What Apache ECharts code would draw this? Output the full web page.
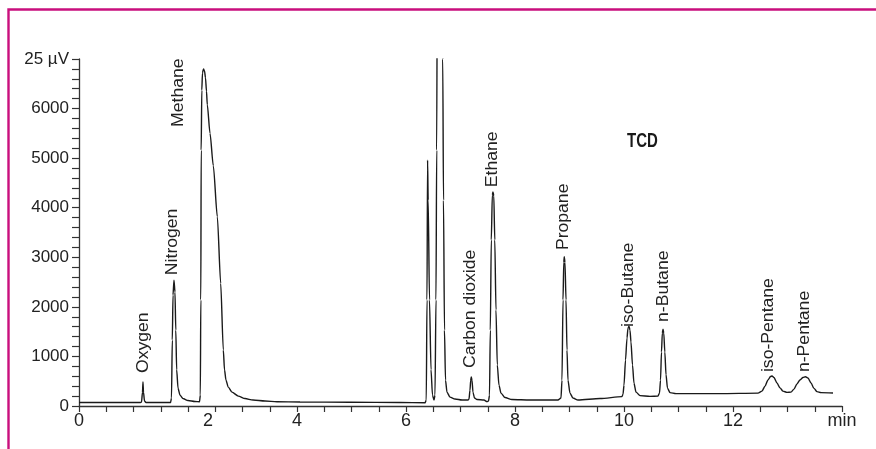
<!DOCTYPE html>
<html>
<head>
<meta charset="utf-8">
<script src="https://cdn.jsdelivr.net/npm/echarts@6/dist/echarts.min.js"></script>
<style>
  html, body { margin: 0; padding: 0; background: #fff; }
  #chart { width: 876px; height: 449px; }
</style>
</head>
<body>
<div id="chart"></div>
<script>
// TCD chromatogram of a refinery gas sample: signal (25 µV units) against retention time (min)

// Detector trace, [time in min, signal]
const baselineStart = [[0, 70], [1.119, 70]];
const oxygenTrace = [[1.147, 80], [1.165, 280], [1.174, 485], [1.183, 280], [1.202, 100], [1.229, 70], [1.679, 70]];
const nitrogenTrace = [[1.697, 160], [1.712, 1330], [1.725, 2240], [1.743, 2540], [1.761, 2300], [1.776, 1530],
  [1.792, 730], [1.817, 360], [1.853, 220], [1.908, 150], [2.0, 110], [2.128, 90], [2.211, 85]];
const methaneTrace = [[2.226, 220], [2.235, 2140], [2.242, 5160], [2.253, 6370], [2.266, 6720], [2.284, 6800],
  [2.303, 6760], [2.321, 6620], [2.339, 6350], [2.354, 6080], [2.404, 5500], [2.464, 4850], [2.538, 3820],
  [2.600, 2470], [2.648, 1130], [2.670, 730], [2.697, 520], [2.739, 380], [2.807, 280], [2.923, 200],
  [3.046, 150], [3.193, 120], [3.413, 100], [3.633, 85], [4.055, 80], [4.972, 75], [5.890, 70], [6.349, 65]];
const earlyPeaksTrace = [[6.372, 120], [6.385, 2140], [6.396, 4960], [6.407, 4150], [6.431, 2140], [6.459, 730],
  [6.486, 220], [6.514, 120], [6.532, 220], [6.550, 2140], [6.563, 5160], [6.578, 10240], [6.618, 16250],
  [6.657, 10240], [6.674, 7000], [6.688, 4150], [6.706, 1530], [6.725, 520], [6.752, 280], [6.807, 180],
  [6.899, 140], [7.028, 120], [7.138, 120]];
const co2Trace = [[7.156, 140], [7.174, 320], [7.187, 520], [7.198, 585], [7.211, 520], [7.229, 280], [7.257, 160],
  [7.303, 130], [7.431, 120], [7.486, 90], [7.514, 100]];
const ethaneTrace = [[7.532, 220], [7.547, 1530], [7.565, 3350], [7.584, 4260], [7.596, 4320], [7.611, 4240],
  [7.629, 3350], [7.651, 1940], [7.675, 830], [7.706, 420], [7.743, 260], [7.817, 170], [7.945, 130],
  [8.275, 120], [8.789, 120]];
const propaneTrace = [[8.844, 160], [8.862, 520], [8.881, 2140], [8.895, 2900], [8.904, 3010], [8.917, 2900],
  [8.936, 2140], [8.954, 1130], [8.972, 520], [9.009, 260], [9.064, 160], [9.156, 120], [9.560, 150], [9.963, 190]];
const isoButaneTrace = [[9.982, 240], [10.0, 420], [10.028, 930], [10.055, 1370], [10.073, 1570], [10.092, 1610],
  [10.110, 1530], [10.128, 1290], [10.156, 830], [10.183, 460], [10.220, 280], [10.294, 210], [10.477, 195],
  [10.624, 200]];
const nButaneTrace = [[10.651, 260], [10.670, 520], [10.688, 1090], [10.703, 1470], [10.716, 1550], [10.730, 1470],
  [10.749, 1090], [10.771, 630], [10.798, 360], [10.844, 270], [10.954, 250], [11.761, 250], [12.459, 260]];
const isoPentaneTrace = [[12.532, 300], [12.587, 400], [12.642, 525], [12.688, 595], [12.716, 605], [12.752, 575],
  [12.807, 465], [12.862, 365], [12.917, 300], [12.991, 275], [13.064, 280]];
const nPentaneTrace = [[13.119, 340], [13.174, 445], [13.229, 525], [13.284, 575], [13.330, 590], [13.376, 565],
  [13.431, 465], [13.486, 355], [13.541, 290], [13.615, 270], [13.835, 262]];

// Peak names and where each name sits (time, signal at the foot of the text)
const peakNames = ['Oxygen', 'Nitrogen', 'Methane', 'Carbon dioxide', 'Ethane', 'Propane',
  'iso-Butane', 'n-Butane', 'iso-Pentane', 'n-Pentane'];
const peakLabelTimes = [1.19, 1.72, 1.83, 7.19, 7.58, 8.90, 10.09, 10.72, 12.66, 13.32];
const peakLabelSignals = [665, 2640, 5630, 765, 4415, 3145, 1595, 1695, 685, 685];

// Axis ranges and tick steps
const timeMin = 0, timeMax = 14, timeStep = 0.5;
const signalMin = 0, signalMax = 7000, signalStep = 200;
const timeLabels = [0, 2, 4, 6, 8, 10, 12];
const signalLabels = [0, 1000, 2000, 3000, 4000, 5000, 6000];
const signalTopLabel = '25 µV';
const timeUnitLabel = 'min';
const detectorName = 'TCD';

const trace = [].concat(baselineStart, oxygenTrace, nitrogenTrace, methaneTrace, earlyPeaksTrace,
  co2Trace, ethaneTrace, propaneTrace, isoButaneTrace, nButaneTrace, isoPentaneTrace, nPentaneTrace);

const labelData = peakNames.map((n, i) => [peakLabelTimes[i], peakLabelSignals[i], n]);

const sans = '"Liberation Sans", Arial, sans-serif';
const ink = '#222';

const chart = echarts.init(document.getElementById('chart'), null, { renderer: 'canvas' });

chart.setOption({
  animation: false,
  backgroundColor: '#fff',
  grid: { left: 79, right: 34, top: 59, bottom: 43 },
  xAxis: {
    type: 'value',
    min: timeMin, max: timeMax, interval: timeStep,
    splitLine: { show: false },
    axisLine: { lineStyle: { color: '#333', width: 1.3 } },
    axisTick: { length: 6, lineStyle: { color: '#333', width: 1.2 } },
    axisLabel: {
      margin: 6,
      fontFamily: sans, fontSize: 18, color: ink,
      showMaxLabel: true, showMinLabel: true,
      formatter: v => {
        if (Math.abs(v - timeMax) < 1e-6) return timeUnitLabel;
        if (v === 2) return '{s|2}';
        return timeLabels.indexOf(v) >= 0 ? String(v) : '';
      },
      rich: { s: { fontFamily: sans, fontSize: 18, color: ink, padding: [0, 0, 0, 40] } }
    }
  },
  yAxis: {
    type: 'value',
    min: signalMin, max: signalMax, interval: signalStep,
    splitLine: { show: false },
    axisLine: { show: true, lineStyle: { color: '#333', width: 1.3 } },
    axisTick: { show: true, length: 7, lineStyle: { color: '#333', width: 1.2 } },
    axisLabel: {
      margin: 10,
      fontFamily: sans, fontSize: 17, color: ink,
      showMaxLabel: true,
      formatter: v => {
        if (Math.abs(v - signalMax) < 1e-6) return signalTopLabel;
        return signalLabels.indexOf(v) >= 0 ? String(v) : '';
      }
    }
  },
  series: [
    {
      type: 'line',
      data: trace,
      showSymbol: false,
      smooth: 0.25,
      smoothMonotone: 'x',
      clip: true,
      lineStyle: { color: '#1a1a1a', width: 1.4 },
      silent: true
    },
    {
      type: 'custom',
      data: labelData,
      clip: false,
      silent: true,
      renderItem: (params, api) => {
        const p = api.coord([api.value(0), api.value(1)]);
        return {
          type: 'text',
          x: p[0], y: p[1],
          rotation: Math.PI / 2,
          scaleX: 1.1,
          style: {
            text: labelData[params.dataIndex][2],
            font: '16px ' + sans,
            fill: ink,
            align: 'left',
            verticalAlign: 'middle'
          }
        };
      }
    }
  ],
  graphic: [
    {
      type: 'rect',
      shape: { x: 8.5, y: 9.5, width: 1000, height: 1000 },
      style: { fill: 'none', stroke: '#c90f7d', lineWidth: 2.4 },
      silent: true
    },
    {
      type: 'text',
      x: 627, y: 151,
      scaleY: 1.3,
      style: { text: detectorName, font: 'bold 15px ' + sans, fill: '#1a1a1a', verticalAlign: 'bottom' },
      silent: true
    }
  ]
});
</script>
</body>
</html>
